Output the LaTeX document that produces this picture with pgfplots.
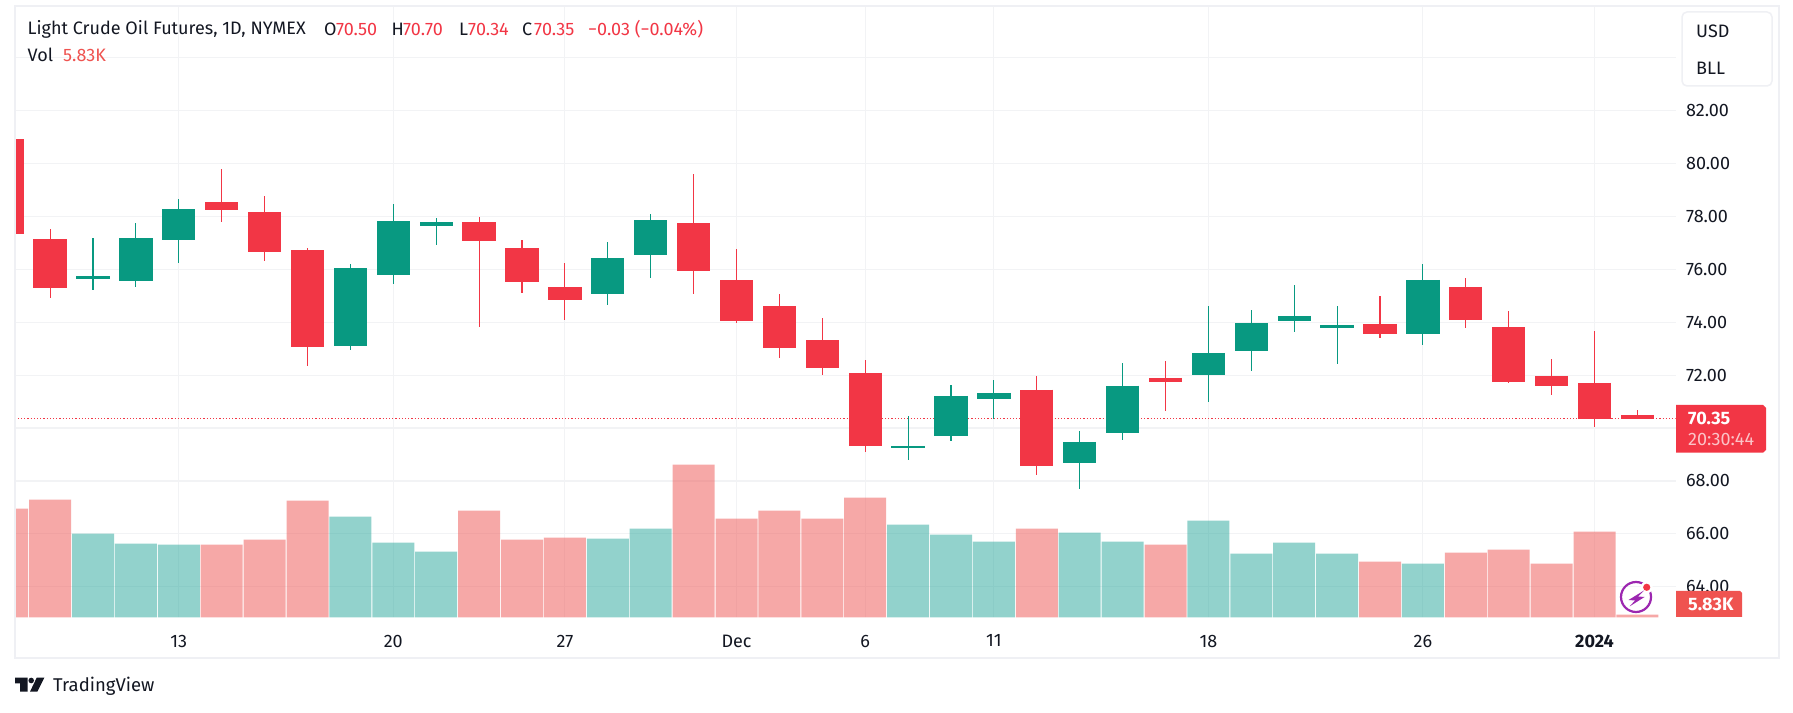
\documentclass[border=0pt]{standalone}
\usepackage{pgfplots}
\pgfplotsset{compat=1.18}
\usepackage{pgfplotstable}
\usepackage{fontspec}
\setmainfont{Fira Sans}
\definecolor{tvred}{HTML}{F23645}
\definecolor{tvgreen}{HTML}{089981}
\definecolor{volred}{HTML}{EF5350}
\definecolor{volgreen}{HTML}{26A69A}
\definecolor{tvgrid}{HTML}{F2F3F5}
\definecolor{tvframe}{HTML}{EFF0F4}
\definecolor{tvtext}{HTML}{131722}
\definecolor{tvpurple}{HTML}{9C27B0}
\newcommand{\fs}{\fontsize{18}{21}\selectfont}
% i = bar index; h high, t body top, b body bottom, l low
\pgfplotstableread{
i h t b l
-1 81.5 80.92 77.33 77.0
0 77.52 77.14 75.29 74.91
4 79.79 78.54 78.24 77.78
5 78.77 78.16 76.65 76.31
6 76.80 76.73 73.06 72.36
10 77.97 77.78 77.07 73.82
11 77.10 76.80 75.52 75.10
12 76.23 75.33 74.84 74.08
15 79.60 77.75 75.93 75.06
16 76.76 75.59 74.04 73.97
17 75.06 74.61 73.02 72.64
18 74.16 73.32 72.28 72.02
19 72.58 72.09 69.33 69.10
23 71.97 71.45 68.57 68.23
26 72.54 71.90 71.75 70.65
31 74.99 73.94 73.56 73.41
33 75.68 75.34 74.09 73.79
34 74.43 73.82 71.75 71.71
35 72.62 71.97 71.60 71.26
36 73.67 71.71 70.35 70.05
37 70.70 70.50 70.35 70.34
}\redcandles
\pgfplotstableread{
i h t b l
1 77.18 75.74 75.63 75.21
2 77.75 77.18 75.55 75.33
3 78.65 78.27 77.10 76.23
7 76.20 76.05 73.10 72.95
8 78.46 77.82 75.78 75.44
9 77.93 77.78 77.63 76.91
13 77.03 76.42 75.06 74.65
14 78.09 77.86 76.54 75.67
20 70.46 69.33 69.25 68.80
21 71.63 71.22 69.71 69.52
22 71.82 71.33 71.11 70.34
24 69.90 69.48 68.69 67.71
25 72.47 71.60 69.82 69.56
27 74.62 72.84 72.01 70.99
28 74.47 73.97 72.90 72.14
29 75.41 74.24 74.05 73.63
30 74.62 73.90 73.79 72.43
32 76.20 75.60 73.56 73.14
}\greencandles
\pgfplotstableread{
i v
-1 237.6
0 257.3
4 158.9
5 169.8
6 255.1
10 233.2
11 169.8
12 174.2
15 333.8
16 215.7
17 233.2
18 215.7
19 261.6
23 193.9
26 158.9
31 121.7
33 141.4
34 147.9
35 117.3
36 187.3
37 5.83
}\redvol
\pgfplotstableread{
i v
1 182.9
2 161.1
3 158.9
7 220.1
8 163.3
9 143.6
13 172.0
14 193.9
20 202.6
21 180.7
22 165.4
24 185.1
25 165.4
27 211.4
28 139.2
29 163.3
30 139.2
32 117.3
}\greenvol
\pgfplotsset{
  tvaxis/.style={
    scale only axis, width=1661pt, height=610.4pt,
    at={(14.6pt,94.6pt)}, anchor=south west,
    xmin=-0.8275, xmax=37.89,
    clip=true
  },
  wick/.style={draw=none, mark=none, forget plot,
    error bars/.cd, y dir=both, y explicit, error mark=none,
    error bar style={draw=#1, solid, line width=1.05pt}},
  body/.style={draw=none, mark=none, forget plot,
    error bars/.cd, y dir=minus, y explicit, error mark=none,
    error bar style={draw=#1, solid, line width=33.3pt}}
}
\begin{document}
\begin{tikzpicture}
\useasboundingbox (0,0) rectangle (1793pt,712pt);
\fill[white] (0,0) rectangle (1793pt,712pt);
% grid and scales
\begin{axis}[tvaxis, ymin=62.84, ymax=85.92,
  axis line style={draw=none},
  major tick length=0pt,
  xmajorgrids, ymajorgrids,
  x grid style={draw=tvgrid, line width=0.9pt},
  y grid style={draw=tvgrid, line width=1.2pt},
  xtick={3,8,12,16,19,22,27,32,36},
  xticklabels={13,20,27,Dec,6,11,18,26,\textbf{2024}},
  ytick={64,66,...,84},
  yticklabel pos=right,
  yticklabels={64.00,66.00,68.00,,72.00,74.00,76.00,78.00,80.00,82.00,},
  tick label style={font=\fs, text=tvtext},
  xticklabel style={yshift=-14pt},
  yticklabel style={xshift=7pt}
]
\end{axis}
% volume
\begin{axis}[tvaxis, ymin=0, ymax=1334.5, axis lines=none,
  bar width=42pt, ybar]
\addplot[fill=volred, fill opacity=0.5, draw=none, forget plot, bar shift=0pt] table[x=i,y=v] {\redvol};
\addplot[fill=volgreen, fill opacity=0.5, draw=none, forget plot, bar shift=0pt] table[x=i,y=v] {\greenvol};
\end{axis}
% candles
\begin{axis}[tvaxis, ymin=62.84, ymax=85.92, axis lines=none]
\addplot[tvred, dash pattern=on 1.2pt off 2pt, line width=0.9pt, forget plot] coordinates {(-0.8275,70.35) (37.89,70.35)};
\addplot[wick=tvred] table[x=i,y=t,y error plus expr=\thisrow{h}-\thisrow{t},y error minus expr=\thisrow{t}-\thisrow{l}] {\redcandles};
\addplot[wick=tvgreen] table[x=i,y=t,y error plus expr=\thisrow{h}-\thisrow{t},y error minus expr=\thisrow{t}-\thisrow{l}] {\greencandles};
\addplot[body=tvred] table[x=i,y=t,y error minus expr=\thisrow{t}-\thisrow{b}] {\redcandles};
\addplot[body=tvgreen] table[x=i,y=t,y error minus expr=\thisrow{t}-\thisrow{b}] {\greencandles};
\end{axis}
\begin{scope}[x=1pt,y=-1pt,yshift=712pt]
\draw[tvframe, line width=2pt] (15,6) rectangle (1779,658);
\draw[tvframe, line width=1.5pt, fill=white, rounded corners=5pt] (1682,12) rectangle (1772,86);
\node[anchor=west,text=tvtext,font=\fs,inner sep=0pt] at (1696,31) {USD};
\node[anchor=west,text=tvtext,font=\fs,inner sep=0pt] at (1696,68) {BLL};
% header
\node[anchor=west,text=tvtext,font=\fs,inner sep=0pt] at (27.5,29.3) {Light Crude Oil Futures, 1D, NYMEX};
\foreach \xa/\la/\xb/\vb in {323.8/O/335.8/70.50,391.5/H/403/70.70,459/L/468/70.34,522/C/534/70.35}{
  \node[anchor=west,text=tvtext,font=\fs,inner sep=0pt] at (\xa,29.3) {\la};
  \node[anchor=west,text=tvred,font=\fs,inner sep=0pt] at (\xb,29.3) {\vb};
}
\node[anchor=west,text=tvred,font=\fs,inner sep=0pt] at (588,29.3) {−0.03 (−0.04\%)};
\node[anchor=west,text=tvtext,font=\fs,inner sep=0pt] at (27.5,55) {Vol};
\node[anchor=west,text=volred,font=\fs,inner sep=0pt] at (63,55) {5.83K};
% price labels
\fill[tvred] (1676,405) -- (1763,405) -- (1766,408) -- (1766,450) -- (1763,452.7) -- (1676,452.7) -- cycle;
\node[anchor=west,text=white,font=\fs\bfseries,inner sep=0pt] at (1688,418) {70.35};
\node[anchor=west,text=white,opacity=0.7,font=\fs,inner sep=0pt] at (1688,440) {20:30:44};
\fill[volred] (1676,591) -- (1740,591) -- (1742,593) -- (1742,617) -- (1676,617) -- cycle;
\node[anchor=west,text=white,font=\fs\bfseries,inner sep=0pt] at (1688,604.5) {5.83K};
% marker icon
\draw[tvpurple, line width=2.2pt] (1636,597) circle (15pt);
\fill[white] (1646.7,587.3) circle (6pt);
\fill[tvred] (1646.7,587.3) circle (3.6pt);
\fill[tvpurple] (1644,590.5) -- (1628.5,600) -- (1635,600.5) -- (1629.5,606.5) -- (1644.5,597) -- (1638,596.5) -- cycle;
% TradingView logo
\fill[tvtext] (15,677.7) -- (27.7,677.7) -- (27.7,691.7) -- (20,691.7) -- (20,683.3) -- (15,683.3) -- cycle;
\fill[tvtext] (31.2,680.5) circle (2.8pt);
\fill[tvtext] (36.7,677.7) -- (44.3,677.7) -- (37.3,691.7) -- (30,691.7) -- cycle;
\node[anchor=west,text=tvtext,font=\fontsize{18.5}{22}\selectfont,inner sep=0pt] at (53,686.5) {TradingView};
\end{scope}
\end{tikzpicture}
\end{document}
